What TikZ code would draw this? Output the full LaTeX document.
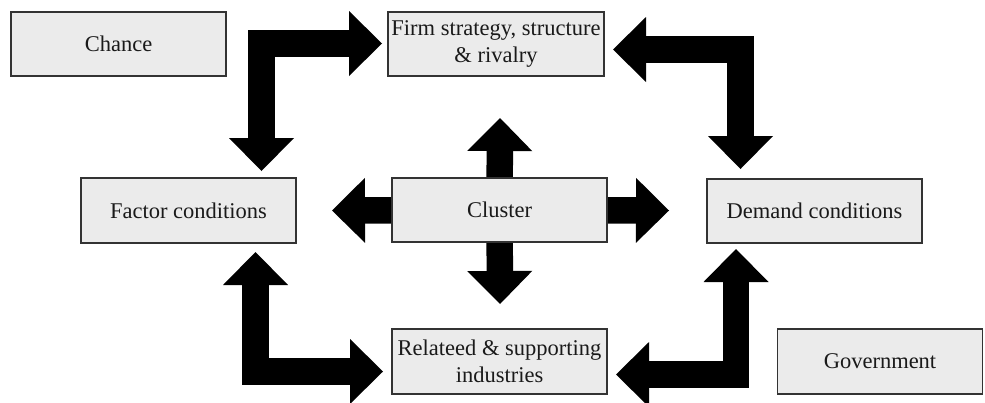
\documentclass[tikz,border=0pt]{standalone}
\usepackage{fontspec}
\setmainfont{Liberation Serif}
\usetikzlibrary{arrows.meta}
\definecolor{boxfill}{HTML}{EBEBEB}
\definecolor{boxline}{HTML}{333333}
\definecolor{txt}{HTML}{1A1A1A}
\tikzset{
  factorbox/.style={draw=boxline, line width=1.3pt, fill=boxfill, text=txt,
    minimum width=215pt, minimum height=64pt, inner sep=0pt, align=center,
    font=\fontsize{22.5}{27}\selectfont},
  blockarrow/.style={line width=26.5pt, draw=black, line join=miter, line cap=butt,
    -{Triangle[width=65pt,length=33pt,line width=0pt]}},
  dblockarrow/.style={blockarrow,
    {Triangle[width=65pt,length=33pt,line width=0pt]}-{Triangle[width=65pt,length=33pt,line width=0pt]}}
}
\begin{document}
\begin{tikzpicture}[x=1pt,y=-1pt]
\useasboundingbox (0,0) rectangle (985,402);
% boxes (positions)
\path (118.5,44) coordinate (pchance)
      (496,44) coordinate (pfirm)
      (188.5,210.5) coordinate (pfactor)
      (499.5,210) coordinate (pcluster)
      (814.5,211) coordinate (pdemand)
      (499.5,361.5) coordinate (prelated)
      (880,361.5) coordinate (pgov);
% arrow end coordinates
\coordinate (tlA) at (382,43.5);
\coordinate (tlB) at (261.5,171);
\coordinate (trA) at (613,49.5);
\coordinate (trB) at (740.5,169);
\coordinate (blA) at (255.5,252);
\coordinate (blB) at (383,371.5);
\coordinate (brA) at (736,249);
\coordinate (brB) at (616,374.5);
\coordinate (cup) at (500,118);
\coordinate (cdown) at (500,304);
\coordinate (cleft) at (332,210.5);
\coordinate (cright) at (669,210.5);
% nodes
\node[factorbox] (chance) at (pchance) {Chance};
\node[factorbox, minimum width=216pt] (firm) at (pfirm) {Firm strategy, structure\\\& rivalry};
\node[factorbox, minimum height=65pt] (factor) at (pfactor) {Factor conditions};
\node[factorbox, minimum height=65pt] (related) at (prelated) {Relateed \& supporting\\industries};
\node[factorbox] (demand) at (pdemand) {Demand conditions};
\node[factorbox, minimum width=205pt, minimum height=65pt] (gov) at (pgov) {Government};
% arrows
\draw[dblockarrow] (tlB) |- (tlA);
\draw[dblockarrow] (trA) -| (trB);
\draw[dblockarrow] (blA) |- (blB);
\draw[dblockarrow] (brA) |- (brB);
\draw[blockarrow] (pcluster) -- (cup);
\draw[blockarrow] (pcluster) -- (cdown);
\draw[blockarrow] (pcluster) -- (cleft);
\draw[blockarrow] (pcluster) -- (cright);
\node[factorbox] (cluster) at (pcluster) {Cluster};
\end{tikzpicture}
\end{document}
